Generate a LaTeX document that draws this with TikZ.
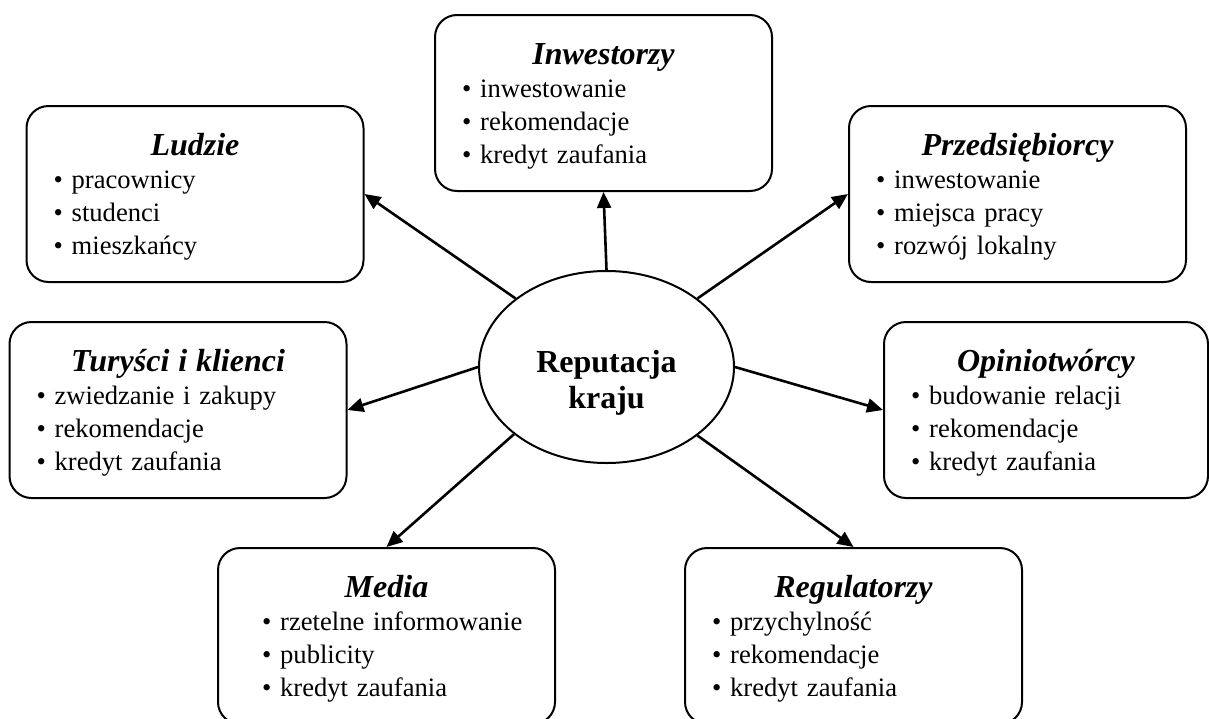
\documentclass[tikz,border=0pt]{standalone}
\usepackage{fontspec}
\setmainfont{Liberation Serif}
\usetikzlibrary{arrows.meta,shapes.geometric}

\newcommand{\grupa}[5][1.75pt]{%
{\centering\fontsize{16}{19}\selectfont\bfseries\itshape\rule{0pt}{14pt}#2\par}%
\raggedright\leftskip=#1
\textbullet~#3\par
\textbullet~#4\par
\textbullet~#5\par}

\begin{document}
\begin{tikzpicture}[x = 0.5pt, y = -0.5pt,
  grupabox/.style = {draw, line width = 1pt, rounded corners = 11pt,
    minimum width = 168.5pt, minimum height = 88pt, inner xsep = 11.75pt, inner ysep = 0pt,
    text width = 145pt, font = \fontsize{13.3}{16.5}\selectfont},
  strz/.style = {line width = 1.3pt, -{Triangle[length = 8pt, width = 7pt]}}]
\useasboundingbox (0,0) rectangle (1209,718);

\node [draw, ellipse, line width = 1pt, minimum width = 127.5pt, minimum height = 96pt, inner sep = 0pt] (rep) at (606.5,367) {};
\node [font = \fontsize{16}{18}\selectfont\bfseries, align = center] (reptxt) at (606.5,383) {Reputacja\\kraju};

\node [grupabox] (ludzie) at (195,194) {\grupa{Ludzie}{pracownicy}{studenci}{mieszkańcy}};
\node [grupabox] (inwest) at (603.5,103) {\grupa{Inwestorzy}{inwestowanie}{rekomendacje}{kredyt zaufania}};
\node [grupabox] (przeds) at (1017.5,194) {\grupa{Przedsiębiorcy}{inwestowanie}{miejsca pracy}{rozwój lokalny}};

\node [grupabox] (turysci) at (178,410) {\grupa{Turyści i klienci}{zwiedzanie i zakupy}{rekomendacje}{kredyt zaufania}};
\node [grupabox, minimum width = 162pt, inner xsep = 8.5pt] (opinie) at (1046,410) {\grupa[5pt]{Opiniotwórcy}{budowanie relacji}{rekomendacje}{kredyt zaufania}};

\node [grupabox] (media) at (386.5,636) {\grupa[10.25pt]{Media}{rzetelne informowanie}{publicity}{kredyt zaufania}};
\node [grupabox] (regul) at (853.5,636) {\grupa{Regulatorzy}{przychylność}{rekomendacje}{kredyt zaufania}};

\draw [strz] (rep.143) -- (ludzie.east);
\draw [strz] (rep.north) -- (inwest.south);
\draw [strz] (rep.37.7) -- (przeds.west);
\draw [strz] (rep.west) -- (turysci.east);
\draw [strz] (rep.east) -- (opinie.west);
\draw [strz] (rep.216.6) -- (media.north);
\draw [strz] (rep.323.4) -- (regul.north);
\end{tikzpicture}
\end{document}
